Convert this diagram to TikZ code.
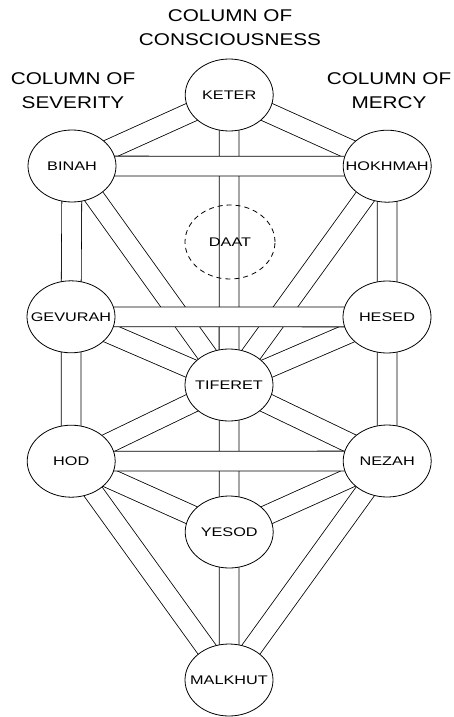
\documentclass[tikz,border=0pt]{standalone}
\usepackage{fontspec}
\setmainfont{Liberation Sans}
\newfontfamily\titlefont[FakeStretch=1.22]{Liberation Sans}
\newfontfamily\lblfont[FakeStretch=1.3]{Liberation Sans}
\usetikzlibrary{shapes.geometric}
\pgfdeclarelayer{bg}
\pgfsetlayers{bg,main}
\begin{document}
\begin{tikzpicture}[x=1pt,y=-1pt,
  sefira/.style={ellipse, draw, line width=0.8pt, fill=white, minimum width=88pt, minimum height=72pt, inner sep=0pt,
    label={[font=\lblfont\fontsize{12.5}{14}\selectfont]center:#1}},
  hiddensefira/.style={ellipse, draw, line width=0.8pt, dash pattern=on 5pt off 4pt, minimum width=90pt, minimum height=74pt, inner sep=0pt,
    label={[font=\lblfont\fontsize{12.5}{14}\selectfont]center:#1}},
  channel/.style={draw=black, line width=0.8pt, double=white, double distance=19pt},
  coltitle/.style={align=center, inner sep=0pt, font=\titlefont\fontsize{17}{24}\selectfont}]
\useasboundingbox (0,0) rectangle (453,717);

\node[coltitle] (tc) at (230,28) {COLUMN OF\\CONSCIOUSNESS};
\node[coltitle] (tl) at (73,91) {COLUMN OF\\SEVERITY};
\node[coltitle] (tr) at (389,91) {COLUMN OF\\MERCY};

\node[sefira=KETER] (keter) at (229.2,95) {};
\node[sefira=BINAH] (binah) at (72,166) {};
\node[sefira=HOKHMAH] (hokhmah) at (387.2,166.2) {};
\node[hiddensefira=DAAT] (daat) at (230,242) {};
\node[sefira=GEVURAH] (gevurah) at (71,316.8) {};
\node[sefira=HESED] (hesed) at (387,317) {};
\node[sefira=TIFERET] (tiferet) at (229,385) {};
\node[sefira=HOD] (hod) at (71.2,461.2) {};
\node[sefira=NEZAH] (nezah) at (387.2,461) {};
\node[sefira=YESOD] (yesod) at (229.2,532) {};
\node[sefira=MALKHUT] (malkhut) at (229,680) {};

\begin{pgfonlayer}{bg}
\foreach \a/\b in {keter/binah, keter/hokhmah, keter/tiferet, binah/gevurah, binah/tiferet,
  hokhmah/hesed, hokhmah/tiferet, gevurah/tiferet, hesed/tiferet, gevurah/hod, hesed/nezah,
  tiferet/hod, tiferet/nezah, tiferet/yesod, hod/yesod, nezah/yesod, hod/malkhut,
  nezah/malkhut, yesod/malkhut, binah/hokhmah, gevurah/hesed, hod/nezah}
  \draw[channel] (\a.center) -- (\b.center);
\end{pgfonlayer}
\end{tikzpicture}
\end{document}
